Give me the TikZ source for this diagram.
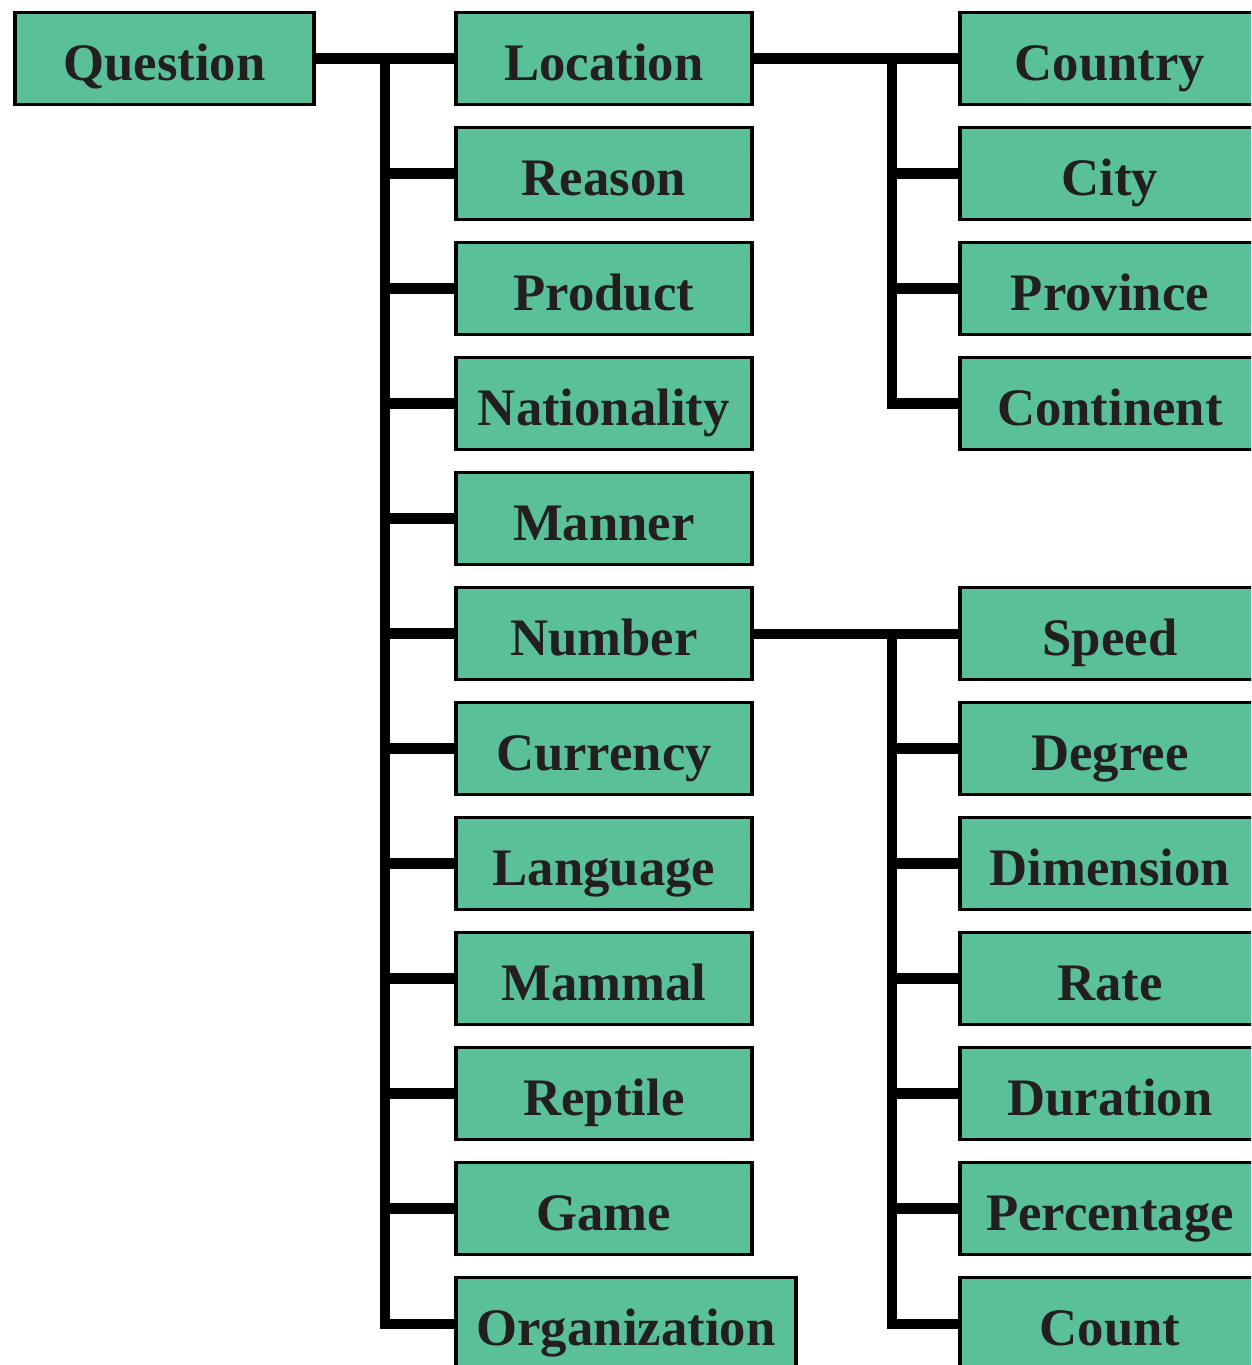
\documentclass[tikz,border=0pt]{standalone}
\usepackage{fontspec}
\setmainfont{Liberation Serif}
\usetikzlibrary{positioning}

\definecolor{boxgreen}{RGB}{90,192,152}
\definecolor{inkgray}{RGB}{35,31,32}

\begin{document}
\begin{tikzpicture}[
  catbox/.style={
    draw=black,
    fill=boxgreen,
    line width=2.2pt,
    anchor=west,
    minimum width=5.92cm,
    minimum height=1.84cm,
    inner sep=0pt,
    text height=1.16cm,
    text depth=0.3cm,
    text=inkgray,
    font=\fontsize{30}{36}\selectfont\bfseries
  },
  widebox/.style={minimum width=6.8cm},
  trunk/.style={line width=5.7pt, line join=miter},
  twig/.style={line width=6.6pt}
]
\useasboundingbox (0,0) rectangle (25.02,-27.3);
\clip (0,0) rectangle (25.02,-27.3);

% root
\node[catbox, minimum width=5.98cm] (ques) at (0.26,-1.17) {Question};

% first level
\node[catbox] (loc)  at (9.08,-1.17)  {Location};
\node[catbox] (rea)  at (9.08,-3.47)  {Reason};
\node[catbox] (prod) at (9.08,-5.77)  {Product};
\node[catbox] (nat)  at (9.08,-8.07)  {Nationality};
\node[catbox] (man)  at (9.08,-10.37) {Manner};
\node[catbox] (num)  at (9.08,-12.67) {Number};
\node[catbox] (cur)  at (9.08,-14.97) {Currency};
\node[catbox] (lang) at (9.08,-17.27) {Language};
\node[catbox] (mam)  at (9.08,-19.57) {Mammal};
\node[catbox] (rep)  at (9.08,-21.87) {Reptile};
\node[catbox] (game) at (9.08,-24.17) {Game};
\node[catbox, widebox] (org) at (9.08,-26.47) {Organization};

% under Location
\node[catbox, minimum width=6.0cm] (ctry) at (19.16,-1.17) {Country};
\node[catbox, minimum width=6.0cm] (city) at (19.16,-3.47) {City};
\node[catbox, minimum width=6.0cm] (prov) at (19.16,-5.77) {Province};
\node[catbox, minimum width=6.0cm] (cont) at (19.16,-8.07) {Continent};

% under Number
\node[catbox, minimum width=6.0cm] (spd)  at (19.16,-12.67) {Speed};
\node[catbox, minimum width=6.0cm] (deg)  at (19.16,-14.97) {Degree};
\node[catbox, minimum width=6.0cm] (dim)  at (19.16,-17.27) {Dimension};
\node[catbox, minimum width=6.0cm] (rate) at (19.16,-19.57) {Rate};
\node[catbox, minimum width=6.0cm] (dur)  at (19.16,-21.87) {Duration};
\node[catbox, minimum width=6.0cm] (pct)  at (19.16,-24.17) {Percentage};
\node[catbox, minimum width=6.0cm] (cnt)  at (19.16,-26.47) {Count};

% Question -> first level
\coordinate (qfork) at (7.7,-1.17);
\draw[trunk] (ques) -- (loc);
\draw[trunk] (qfork) |- (org.west);
\draw[twig] (qfork |- rea.west)  -- (rea.west);
\draw[twig] (qfork |- prod.west) -- (prod.west);
\draw[twig] (qfork |- nat.west)  -- (nat.west);
\draw[twig] (qfork |- man.west)  -- (man.west);
\draw[twig] (qfork |- num.west)  -- (num.west);
\draw[twig] (qfork |- cur.west)  -- (cur.west);
\draw[twig] (qfork |- lang.west) -- (lang.west);
\draw[twig] (qfork |- mam.west)  -- (mam.west);
\draw[twig] (qfork |- rep.west)  -- (rep.west);
\draw[twig] (qfork |- game.west) -- (game.west);

% Location -> places
\coordinate (lfork) at (17.84,-1.17);
\draw[trunk] (loc) -- (ctry);
\draw[trunk] (lfork) |- (cont.west);
\draw[twig] (lfork |- city.west) -- (city.west);
\draw[twig] (lfork |- prov.west) -- (prov.west);

% Number -> measures
\coordinate (nfork) at (17.84,-12.67);
\draw[trunk] (num) -- (spd);
\draw[trunk] (nfork) |- (cnt.west);
\draw[twig] (nfork |- deg.west)  -- (deg.west);
\draw[twig] (nfork |- dim.west)  -- (dim.west);
\draw[twig] (nfork |- rate.west) -- (rate.west);
\draw[twig] (nfork |- dur.west)  -- (dur.west);
\draw[twig] (nfork |- pct.west)  -- (pct.west);

\end{tikzpicture}
\end{document}
